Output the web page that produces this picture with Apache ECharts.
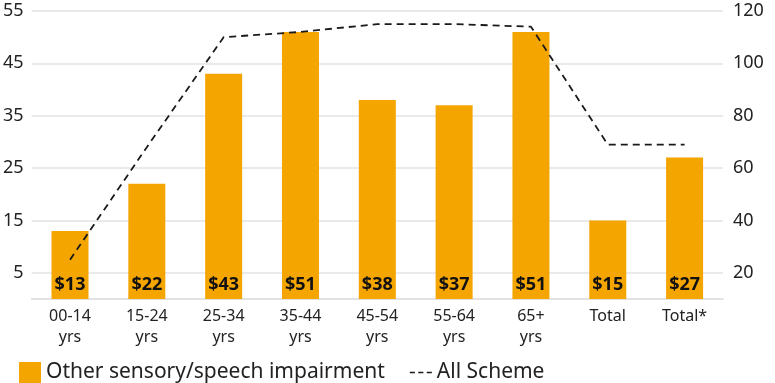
<!DOCTYPE html>
<html lang="en">
<head>
    <meta charset="UTF-8">
    <title>Cost by age group</title>
    <script src="https://cdn.jsdelivr.net/npm/echarts@6.0.0/dist/echarts.min.js"></script>
    <style>
        * { margin: 0; padding: 0; box-sizing: border-box; }
        body { background: #fff; }
        #chart { width: 775px; height: 383px; }
    </style>
</head>
<body>
    <div id="chart"></div>
    <script>
        // data
        const categories = ['00-14\nyrs', '15-24\nyrs', '25-34\nyrs', '35-44\nyrs', '45-54\nyrs', '55-64\nyrs', '65+\nyrs', 'Total', 'Total*'];
        const sensoryCost = [13, 22, 43, 51, 38, 37, 51, 15, 27];
        const allScheme = [25, 68, 110, 112, 115, 115, 114, 69, 69];
        const leftTicks = [5, 15, 25, 35, 45, 55];
        const rightTicks = [20, 40, 60, 80, 100, 120];

        const chart = echarts.init(document.getElementById('chart'));
        const font = '"Noto Sans", sans-serif';

        const option = {
            animation: false,
            textStyle: { fontFamily: font },
            grid: { left: 26, right: 52, top: 11, bottom: 84 },
            legend: {
                left: 19,
                bottom: 0,
                padding: 0,
                itemWidth: 22,
                itemHeight: 21,
                itemGap: 25,
                textStyle: { fontSize: 21, color: '#222', fontFamily: font },
                data: [
                    { name: 'Other sensory/speech impairment', icon: 'rect' },
                    { name: 'All Scheme', icon: 'path://M0,0H6V2H0Z M10,0H16V2H10Z M20,0H26V2H20Z' }
                ]
            },
            xAxis: {
                type: 'category',
                data: categories,
                axisLine: { lineStyle: { color: '#d9d9d9', width: 1.5 } },
                axisTick: { show: false },
                axisLabel: { color: '#222', fontSize: 16, lineHeight: 21, margin: 7 }
            },
            yAxis: [
                {
                    type: 'value',
                    min: 0,
                    max: 55,
                    axisLine: { show: false },
                    axisTick: { show: false, customValues: leftTicks },
                    axisLabel: { customValues: leftTicks, color: '#222', fontSize: 18, margin: 8 },
                    splitLine: { lineStyle: { color: '#e3e3e3', width: 1.5 } }
                },
                {
                    type: 'value',
                    min: 10,
                    max: 120,
                    axisLine: { show: false },
                    axisTick: { show: false, customValues: rightTicks },
                    axisLabel: { customValues: rightTicks, color: '#222', fontSize: 18, margin: 10 },
                    splitLine: { show: false }
                }
            ],
            series: [
                {
                    name: 'Other sensory/speech impairment',
                    type: 'bar',
                    data: sensoryCost,
                    barWidth: 37,
                    itemStyle: { color: '#f5a500' },
                    label: {
                        show: true,
                        position: 'insideBottom',
                        distance: 5,
                        formatter: p => '$' + p.value,
                        color: '#111',
                        fontWeight: 'bold',
                        fontSize: 18
                    }
                },
                {
                    name: 'All Scheme',
                    type: 'line',
                    yAxisIndex: 1,
                    data: allScheme,
                    showSymbol: false,
                    symbol: 'none',
                    lineStyle: { color: '#1a1a1a', width: 1.8, type: [7, 5] },
                    itemStyle: { color: '#1a1a1a' },
                    z: 5
                }
            ]
        };

        chart.setOption(option);
    </script>
</body>
</html>
